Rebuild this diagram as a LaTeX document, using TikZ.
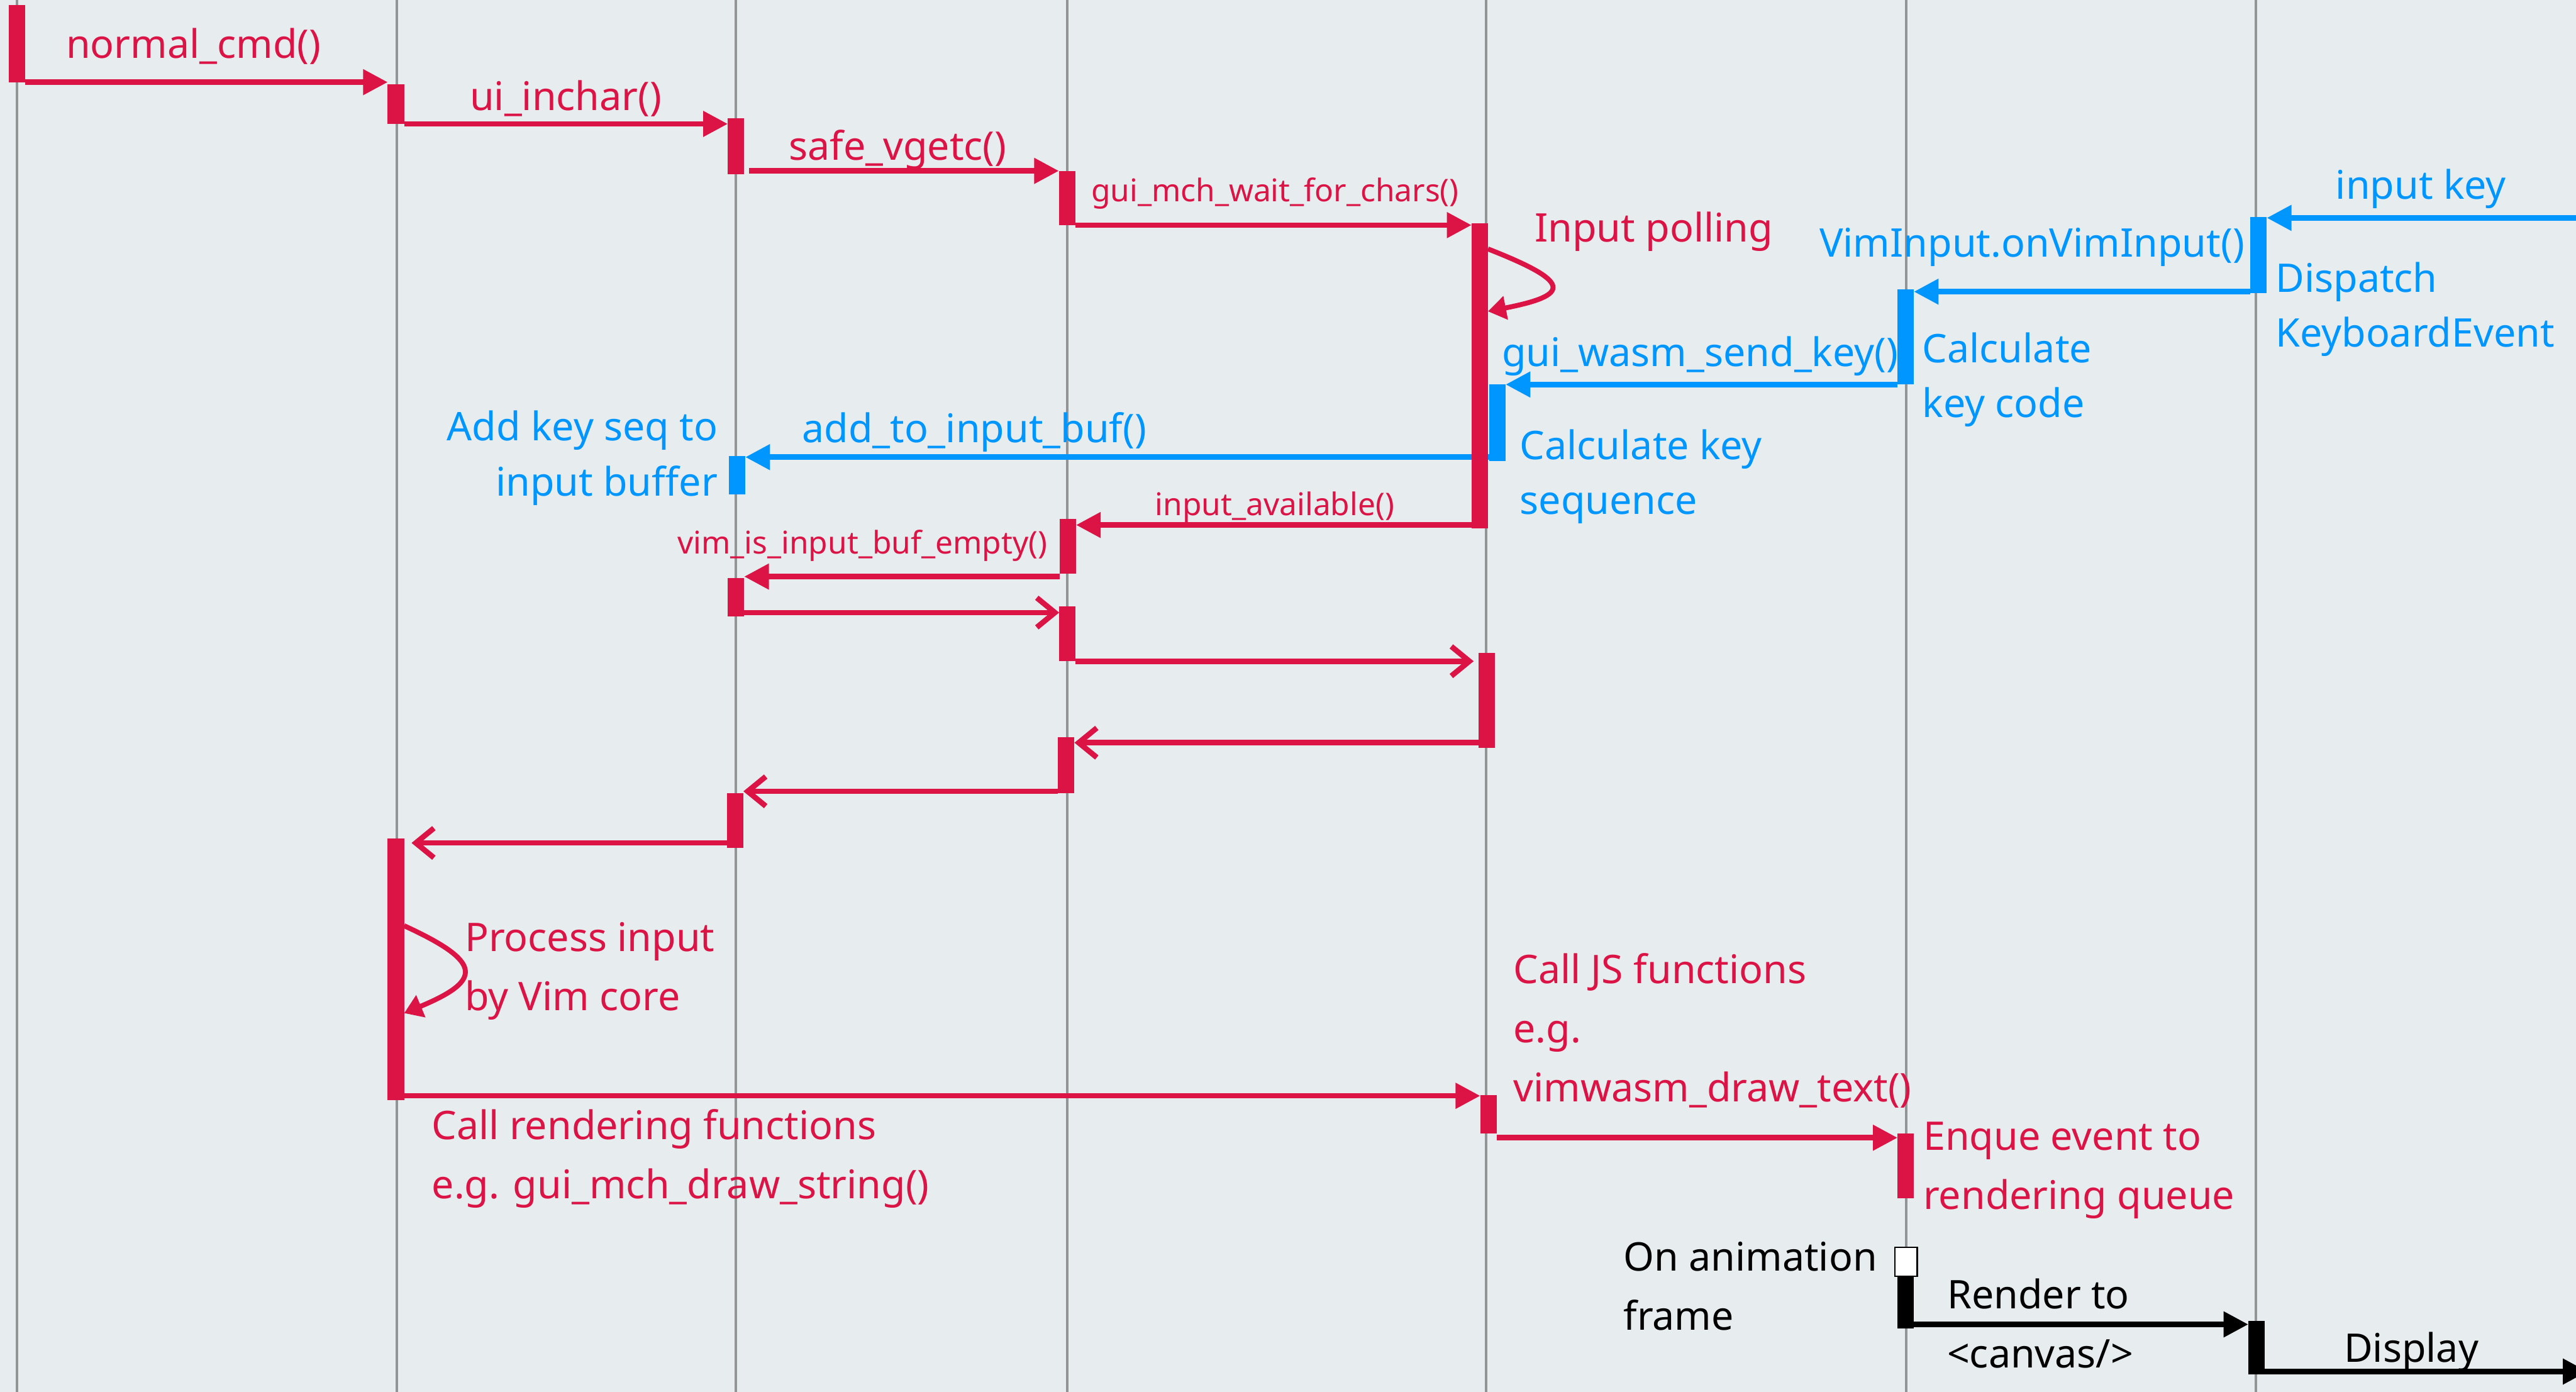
\documentclass[tikz,border=0pt]{standalone}
\usepackage{fontspec}
\setmainfont{Noto Sans}
\usetikzlibrary{arrows.meta}
\definecolor{seqred}{RGB}{220,20,70}
\definecolor{seqblue}{RGB}{0,150,255}
\definecolor{seqbg}{RGB}{231,236,239}
\definecolor{seqline}{RGB}{146,148,149}
\pgfdeclarelayer{lifelines}
\pgfdeclarelayer{messages}
\pgfsetlayers{lifelines,messages,main}

\begin{document}
% multi-line labels are anchored at the baseline of their last line
\begin{tikzpicture}[x=1pt,y=-1pt,
  act/.style={rectangle,inner sep=0pt,outer sep=0pt,minimum width=10pt,anchor=north,draw=none},
  ract/.style={act,fill=seqred},
  bact/.style={act,fill=seqblue},
  kact/.style={act,fill=black},
  msg/.style={line width=3.3pt},
  call/.style={msg,-{Triangle[length=15pt,width=15pt]}},
  reply/.style={msg,-{Straight Barb[length=11pt,width=18pt]}},
  selfcall/.style={line width=3pt,-{Triangle[length=11pt,width=14pt]}},
  lbl/.style={anchor=base west,inner sep=0pt,align=left,font=\fontsize{24}{36}\selectfont},
  tight/.style={lbl,font=\fontsize{24}{33.4}\selectfont},
  minor/.style={anchor=base west,inner sep=0pt,font=\fontsize{19}{23}\selectfont},
  life/.style={seqline,line width=1.5pt}
]
\useasboundingbox (0,0) rectangle (1568,847);

% background and lifelines
\begin{pgfonlayer}{lifelines}
\fill[seqbg] (0,0) rectangle (1568,847);
\foreach \x in {10.3,241.7,448,649.5,904.7,1160.2,1373}
  \draw[life] (\x,0) -- (\x,847);
\end{pgfonlayer}

% activation bars
\node[ract,minimum height=47pt]    (nc)   at (10.3,3) {};
\node[ract,minimum height=24pt]    (ui)   at (241,51.4) {};
\node[ract,minimum height=34pt]    (sv)   at (448,72) {};
\node[ract,minimum height=33pt]    (gw)   at (649.5,104) {};
\node[ract,minimum height=185.5pt] (poll) at (900.7,136) {};
\node[bact,minimum height=46.5pt]  (key)  at (1374.8,132) {};
\node[bact,minimum height=58pt]    (code) at (1160,176) {};
\node[bact,minimum height=46.5pt]  (seq)  at (911.5,234) {};
\node[bact,minimum height=23pt]    (buf)  at (448.7,277.7) {};
\node[ract,minimum height=33.4pt]  (av)   at (650,315.8) {};
\node[ract,minimum height=23.6pt]  (em)   at (448,351.7) {};
\node[ract,minimum height=33.4pt]  (r1)   at (649.7,369) {};
\node[ract,minimum height=57.6pt]  (r2)   at (905,397.4) {};
\node[ract,minimum height=34pt]    (r3)   at (649,448.6) {};
\node[ract,minimum height=33.4pt]  (r4)   at (447.5,482.6) {};
\node[ract,minimum height=159pt]   (core) at (241,510.4) {};
\node[ract,minimum height=23.6pt]  (js)   at (906,666.4) {};
\node[ract,minimum height=39.3pt]  (enq)  at (1160,690) {};
\node[act,fill=white,draw=black,line width=0.9pt,minimum width=13.5pt,minimum height=17.6pt] (frame) at (1160.2,759) {};
\node[kact,minimum height=31.8pt]  (rend) at (1160,776.6) {};
\node[kact,minimum height=32.5pt]  (disp) at (1373.5,804) {};

\coordinate (keyin)  at (1575,132.6);
\coordinate (screen) at (1575,834.7);

% messages
\begin{pgfonlayer}{messages}
\draw[call,seqred] (nc.south east) -- (nc.south east -| ui.west);
\draw[call,seqred] (ui.south east) -- (ui.south east -| sv.west);
\draw[call,seqred] ([xshift=3pt,yshift=2pt]sv.south east) -- ([yshift=2pt]sv.south east -| gw.west);
\draw[call,seqred] (gw.south east) -- (gw.south east -| poll.west);
\draw[selfcall,seqred] ([yshift=-15.5pt]poll.north east) .. controls +(51,20) and +(51,-10) .. ([yshift=-53.5pt]poll.north east);

\draw[call,seqblue] (keyin) -- (keyin -| key.east);
\draw[call,seqblue] ([yshift=1pt]key.south west) -- ([yshift=1pt]key.south west -| code.east);
\draw[call,seqblue] (code.south west) -- (code.south west -| seq.east);
\draw[call,seqblue] ([yshift=2.3pt]seq.south west) -- ([yshift=2.3pt]seq.south west -| buf.east);

\draw[call,seqred] ([yshift=2pt]poll.south west) -- ([yshift=2pt]poll.south west -| av.east);
\draw[call,seqred] ([yshift=-1.7pt]av.south west) -- ([yshift=-1.7pt]av.south west -| em.east);
\draw[reply,seqred] ([yshift=2.5pt]em.south east) -- ([yshift=2.5pt]em.south east -| r1.west);
\draw[reply,seqred,shorten >=3pt] (r1.south east) -- (r1.south east -| r2.west);
\draw[reply,seqred] ([yshift=3pt]r2.south west) -- ([yshift=3pt]r2.south west -| r3.east);
\draw[reply,seqred] ([yshift=1pt]r3.south west) -- ([yshift=1pt]r3.south west -| r4.east);
\draw[reply,seqred,shorten >=4.5pt] ([yshift=3pt]r4.south west) -- ([yshift=3pt]r4.south west -| core.east);

\draw[selfcall,seqred] ([yshift=-53pt]core.north east) .. controls +(48,22) and +(48,-20) .. ([yshift=-106.2pt]core.north east);
\draw[call,seqred] ([yshift=2.5pt]core.south east) -- ([yshift=2.5pt]core.south east -| js.west);
\draw[call,seqred] ([yshift=-2.4pt]js.south east) -- ([yshift=-2.4pt]js.south east -| enq.west);

\draw[call,black] ([yshift=2.4pt]rend.south east) -- ([yshift=2.4pt]rend.south east -| disp.west);
\draw[call,black] ([yshift=1.8pt]disp.south east) -- ([yshift=1.8pt]disp.south east -| screen);
\end{pgfonlayer}

% labels
\node[lbl,text=seqred] (t1) at (40,35.4) {normal\_cmd()};
\node[lbl,text=seqred] (t2) at (285.8,67) {ui\_inchar()};
\node[lbl,text=seqred] (t3) at (480,97.4) {safe\_vgetc()};
\node[minor,text=seqred] (t4) at (664,122.5) {gui\_mch\_wait\_for\_chars()};
\node[lbl,text=seqred] (t5) at (934,147) {Input polling};
\node[lbl,text=seqblue] (t6) at (1421.5,121) {input key};
\node[lbl,text=seqblue,anchor=base east] (t7) at (1366.4,156.4) {VimInput.onVimInput()};
\node[tight,text=seqblue] (t8) at (1385,211.2) {Dispatch\\KeyboardEvent};
\node[lbl,text=seqblue] (t9) at (914,222.9) {gui\_wasm\_send\_key()};
\node[tight,text=seqblue] (t10) at (1170,254) {Calculate\\key code};
\node[tight,text=seqblue,anchor=base east,align=right] (t11) at (437,301.7) {Add key seq to\\input buffer};
\node[lbl,text=seqblue] (t12) at (488,269.3) {add\_to\_input\_buf()};
\node[tight,text=seqblue] (t13) at (925,313) {Calculate key\\sequence};
\node[minor,text=seqred] (t14) at (703,313.7) {input\_available()};
\node[minor,text=seqred,anchor=base east] (t15) at (637.7,337) {vim\_is\_input\_buf\_empty()};
\node[lbl,text=seqred] (t16) at (282.8,615) {Process input\\by Vim core};
\node[lbl,text=seqred] (t17) at (262.7,729.3) {Call rendering functions\\e.g. gui\_mch\_draw\_string()};
\node[lbl,text=seqred] (t18) at (921,670.6) {Call JS functions\\e.g.\\vimwasm\_draw\_text()};
\node[lbl,text=seqred] (t19) at (1170.5,736) {Enque event to\\rendering queue};
\node[lbl,text=black] (t20) at (988,809.3) {On animation\\frame};
\node[lbl,text=black] (t21) at (1185,832.5) {Render to\\<canvas/>};
\node[lbl,text=black] (t22) at (1426.6,829) {Display};
\end{tikzpicture}
\end{document}
